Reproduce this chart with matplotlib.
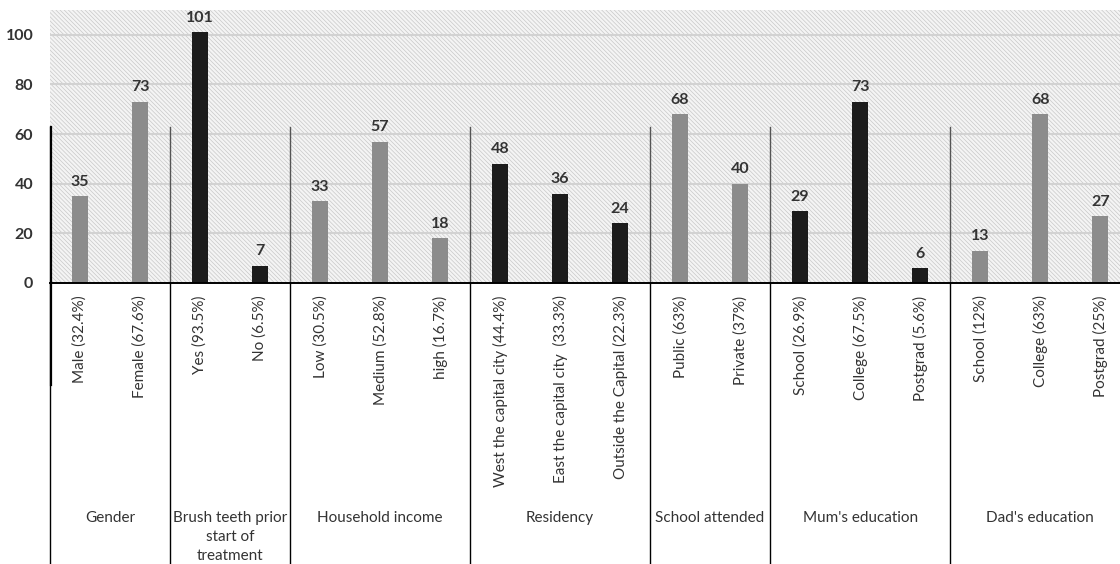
import matplotlib.pyplot as plt
from matplotlib.patches import Rectangle

plt.rcParams['font.family'] = ['Lato', 'DejaVu Sans']
plt.rcParams['hatch.linewidth'] = 0.5
plt.rcParams['hatch.color'] = '#c8c8c8'

# categories per group
groups = ['Gender', 'Brush teeth prior\nstart of\ntreatment', 'Household income',
          'Residency', 'School attended', "Mum's education", "Dad's education"]
labels = [
    ['Male (32.4%)', 'Female (67.6%)'],
    ['Yes (93.5%)', 'No (6.5%)'],
    ['Low (30.5%)', 'Medium (52.8%)', 'high (16.7%)'],
    ['West the capital city (44.4%)', 'East the capital city  (33.3%)', 'Outside the Capital (22.3%)'],
    ['Public (63%)', 'Private (37%)'],
    ['School (26.9%)', 'College (67.5%)', 'Postgrad (5.6%)'],
    ['School (12%)', 'College (63%)', 'Postgrad (25%)'],
]
values = [
    [35, 73],
    [101, 7],
    [33, 57, 18],
    [48, 36, 24],
    [68, 40],
    [29, 73, 6],
    [13, 68, 27],
]
group_colors = ['#8c8c8c', '#1c1c1c', '#8c8c8c', '#1c1c1c', '#8c8c8c', '#1c1c1c', '#8c8c8c']

txt = '#333333'

fig = plt.figure(figsize=(11.2, 5.64), dpi=100)
ax = fig.add_axes([50 / 1120, 281 / 564, 1070 / 1120, 273 / 564])

# hatched background
ax.add_patch(Rectangle((0, 0), 1, 1, transform=ax.transAxes, facecolor='#f4f4f4',
                       edgecolor='#c8c8c8', hatch='\\' * 8, lw=0, zorder=0))

pos = 0
for g, (name, labs, vals, col) in enumerate(zip(groups, labels, values, group_colors)):
    xs = list(range(pos, pos + len(vals)))
    ax.bar(xs, vals, width=0.27, color=col, zorder=3)
    for x, v, lab in zip(xs, vals, labels[g]):
        ax.text(x, v + 3, str(v), ha='center', va='bottom', fontsize=11.5,
                fontweight='bold', color=txt)
        ax.text(x, -5, lab, rotation=90, ha='center', va='top', fontsize=11,
                color=txt)
    # group label
    ax.text((xs[0] + xs[-1]) / 2, -92, name, ha='center', va='top', fontsize=11,
            color=txt, linespacing=1.45)
    # separator line on the left of the group
    sep = pos - 0.5
    ax.plot([sep, sep], [63, 0], color='#555555', lw=1, clip_on=False, zorder=4)
    ax.plot([sep, sep], [0, -120], color='black', lw=1, clip_on=False, zorder=4)
    pos += len(vals)

# thicker left stub
ax.plot([-0.48, -0.48], [63, -41], color='black', lw=1.6, clip_on=False, zorder=4)

ax.set_xlim(-0.5, 17.33)
ax.set_ylim(0, 110)
ax.set_yticks([0, 20, 40, 60, 80, 100])
ax.yaxis.grid(True, color='#d2d2d2', lw=1.5, zorder=1)
ax.set_axisbelow(True)
ax.tick_params(axis='y', length=0, labelsize=11.5, labelcolor=txt, pad=12)
for t in ax.get_yticklabels():
    t.set_fontweight('bold')
ax.set_xticks([])
for s in ['top', 'right', 'left']:
    ax.spines[s].set_visible(False)
ax.spines['bottom'].set_color('black')
ax.spines['bottom'].set_linewidth(1.4)
ax.spines['bottom'].set_zorder(5)

fig.savefig('out.png', dpi=100)
